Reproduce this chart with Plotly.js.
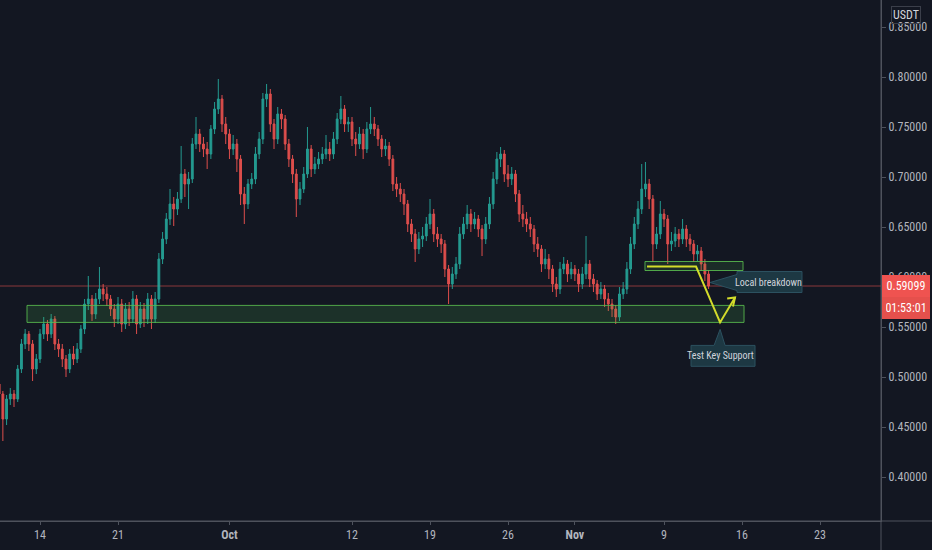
<!DOCTYPE html>
<html>
<head>
<meta charset="utf-8">
<script src="https://cdn.plot.ly/plotly-3.0.1.min.js"></script>
<style>
html,body{margin:0;padding:0;background:#131722;}
#chart{width:932px;height:550px;}
</style>
</head>
<body>
<div id="chart"></div>
<script>
// ---- data (8h candles, USDT) ----
const startTime = '2020-09-10T00:00:00Z';
const intervalHours = 8;

const openP = [
.488,.493,.483,.458,.478,.483,.478,.508,.533,.543,
.533,.508,.518,.543,.553,.543,.558,.533,.528,.518,
.508,.523,.518,.528,.548,.573,.578,.563,.578,.588,
.583,.578,.568,.558,.573,.553,.568,.558,.578,.553,
.568,.558,.578,.558,.578,.618,.638,.658,.673,.668,
.678,.703,.693,.698,.733,.743,.733,.728,.723,.748,
.768,.778,.753,.743,.728,.733,.718,.683,.673,.693,
.698,.723,.738,.778,.783,.753,.738,.763,.758,.733,
.718,.703,.678,.688,.703,.728,.708,.713,.718,.723,
.728,.723,.738,.758,.768,.753,.755,.738,.733,.743,
.728,.748,.753,.748,.738,.728,.731,.718,.693,.688,
.683,.673,.653,.643,.628,.638,.641,.653,.663,.643,
.638,.633,.608,.593,.603,.613,.643,.653,.663,.653,
.658,.648,.638,.653,.673,.698,.718,.723,.703,.698,
.703,.683,.663,.658,.653,.648,.633,.628,.613,.618,
.608,.593,.588,.608,.613,.603,.608,.603,.593,.603,
.613,.598,.593,.583,.588,.578,.573,.568,.560,.583,
.588,.608,.633,.653,.668,.688,.693,.678,.633,.643,
.663,.658,.633,.636,.643,.638,.648,.638,.633,.623,
.626,.613,.603
];
const highP = [
.498,.497,.486,.482,.489,.487,.512,.538,.548,.546,
.537,.523,.548,.560,.557,.563,.561,.538,.533,.522,
.528,.531,.534,.552,.578,.601,.582,.584,.610,.593,
.590,.582,.573,.580,.578,.574,.575,.586,.582,.575,
.574,.584,.582,.585,.624,.645,.664,.688,.680,.685,
.731,.708,.705,.739,.760,.748,.740,.735,.752,.775,
.798,.782,.760,.748,.742,.738,.722,.690,.698,.704,
.730,.745,.784,.793,.788,.758,.770,.768,.762,.738,
.722,.708,.695,.710,.750,.732,.720,.725,.730,.742,
.735,.745,.764,.781,.772,.760,.760,.745,.750,.748,
.755,.770,.760,.752,.742,.738,.735,.722,.700,.694,
.688,.677,.658,.648,.645,.650,.660,.678,.668,.650,
.643,.637,.612,.610,.620,.650,.660,.672,.668,.665,
.662,.652,.660,.680,.705,.725,.730,.727,.712,.710,
.707,.687,.672,.665,.660,.652,.640,.632,.628,.623,
.612,.600,.615,.620,.617,.615,.612,.608,.610,.641,
.617,.603,.597,.595,.592,.584,.578,.572,.590,.595,
.615,.640,.660,.676,.713,.715,.698,.682,.650,.676,
.668,.662,.645,.650,.648,.658,.652,.643,.637,.632,
.630,.618,.607
];
const lowP = [
.484,.478,.436,.452,.472,.470,.475,.504,.528,.526,
.496,.503,.514,.538,.536,.539,.527,.520,.510,.500,
.504,.512,.514,.524,.543,.567,.556,.558,.573,.576,
.571,.561,.550,.553,.545,.548,.551,.554,.543,.549,
.550,.553,.548,.554,.574,.613,.633,.652,.651,.662,
.674,.680,.668,.694,.728,.725,.720,.708,.718,.743,
.763,.745,.733,.718,.722,.705,.672,.653,.668,.688,
.693,.718,.733,.770,.745,.728,.733,.748,.727,.710,
.694,.660,.672,.684,.699,.700,.703,.708,.713,.718,
.716,.718,.733,.753,.745,.745,.731,.721,.728,.718,
.724,.743,.741,.731,.720,.721,.711,.686,.680,.675,
.662,.645,.635,.615,.623,.630,.636,.648,.635,.630,
.624,.600,.573,.588,.598,.608,.638,.648,.645,.648,
.640,.621,.633,.648,.668,.693,.710,.695,.690,.692,
.675,.655,.650,.645,.640,.625,.620,.605,.608,.598,
.585,.580,.583,.603,.595,.598,.596,.585,.588,.598,
.590,.585,.577,.578,.570,.566,.560,.553,.556,.578,
.583,.603,.628,.648,.663,.680,.668,.615,.628,.638,
.650,.613,.626,.630,.630,.633,.630,.626,.615,.616,
.606,.596,.588
];
const closeP = [
.493,.483,.458,.478,.483,.478,.508,.533,.543,.533,
.508,.518,.543,.553,.543,.558,.533,.528,.518,.508,
.523,.518,.528,.548,.573,.578,.563,.578,.588,.583,
.578,.568,.558,.573,.553,.568,.558,.578,.553,.568,
.558,.578,.558,.578,.618,.638,.658,.673,.668,.678,
.703,.693,.698,.733,.743,.733,.728,.723,.748,.768,
.778,.753,.743,.728,.733,.718,.683,.673,.693,.698,
.723,.738,.778,.783,.753,.738,.763,.758,.733,.718,
.703,.678,.688,.703,.728,.708,.713,.718,.723,.728,
.723,.738,.758,.768,.753,.755,.738,.733,.743,.728,
.748,.753,.748,.738,.728,.731,.718,.693,.688,.683,
.673,.653,.643,.628,.638,.641,.653,.663,.643,.638,
.633,.608,.593,.603,.613,.643,.653,.663,.653,.658,
.648,.638,.653,.673,.698,.718,.723,.703,.698,.703,
.683,.663,.658,.653,.648,.633,.628,.613,.618,.608,
.593,.588,.608,.613,.603,.608,.603,.593,.603,.613,
.598,.593,.583,.588,.578,.573,.568,.560,.583,.588,
.608,.633,.653,.668,.688,.693,.678,.633,.643,.663,
.658,.633,.636,.643,.638,.648,.638,.633,.623,.626,
.613,.603,.59099
];

const lastPrice = 0.59099;
const countdownText = '01:53:01';
const currency = 'USDT';

const xTickDates = ['2020-09-14','2020-09-21','2020-10-01','2020-10-12','2020-10-19','2020-10-26','2020-11-01','2020-11-09','2020-11-16','2020-11-23'];
const xTickLabels = ['14','21','<b>Oct</b>','12','19','26','<b>Nov</b>','9','16','23'];
const yTickVals = [0.40,0.45,0.50,0.55,0.60,0.65,0.70,0.75,0.80,0.85];

// support / resistance zones [x0, x1, yLow, yHigh]
const supportZone = ['2020-09-12 20:00','2020-11-16 04:20',0.5546,0.5716];
const breakZone = ['2020-11-07 07:00','2020-11-16 02:10',0.6065,0.6155];

// ---- build ----
const t0 = Date.parse(startTime);
const times = closeP.map((_, i) => new Date(t0 + i * intervalHours * 3600e3).toISOString().slice(0,16).replace('T',' '));

const UP = '#26a69a', DOWN = '#ef5350';
const trace = {
  type: 'candlestick',
  x: times, open: openP, high: highP, low: lowP, close: closeP,
  increasing: {line: {color: UP, width: 1}, fillcolor: UP},
  decreasing: {line: {color: DOWN, width: 1}, fillcolor: DOWN},
  whiskerwidth: 0,
  opacity: 0.92,
  hoverinfo: 'skip'
};

const fontFam = '"Liberation Sans Narrow", "Roboto Condensed", Roboto, "DejaVu Sans", sans-serif';
const axisCol = '#4e525d';
const txtCol = '#b2b5be';
const yel = '#d3dc2b';
const bubbleFill = '#1d3843';
const bubbleLine = '#2c5160';

const shapes = [
  {type:'line', xref:'paper', yref:'y', x0:0, x1:1, y0:lastPrice, y1:lastPrice,
   line:{color:'rgba(239,83,80,0.55)', width:1}, layer:'below'},
  {type:'rect', xref:'x', yref:'y', x0:supportZone[0], x1:supportZone[1], y0:supportZone[2], y1:supportZone[3],
   fillcolor:'rgba(76,175,80,0.17)', line:{color:'rgba(90,190,80,0.85)', width:1}},
  {type:'rect', xref:'x', yref:'y', x0:breakZone[0], x1:breakZone[1], y0:breakZone[2], y1:breakZone[3],
   fillcolor:'rgba(76,175,80,0.14)', line:{color:'rgba(90,190,80,0.85)', width:1}},
  {type:'path', xref:'x', yref:'y',
   path:'M 2020-11-07_11:20,0.6105 L 2020-11-11_21:00,0.6105 L 2020-11-14_00:45,0.5546 L 2020-11-15_08:55,0.5795',
   line:{color:yel, width:2}},
  {type:'path', xref:'x', yref:'y',
   path:'M 2020-11-14_16:00,0.5785 L 2020-11-15_08:55,0.5795 L 2020-11-15_04:30,0.5705',
   line:{color:yel, width:2}},
  {type:'path', xref:'x', yref:'y',
   path:'M 2020-11-13_03:10,0.5945 L 2020-11-15_13:10,0.6025 L 2020-11-15_13:10,0.6055 L 2020-11-21_09:10,0.6055 L 2020-11-21_09:10,0.5845 L 2020-11-15_13:10,0.5845 L 2020-11-15_13:10,0.5865 Z',
   fillcolor:bubbleFill, line:{color:bubbleLine, width:1}},
  {type:'path', xref:'x', yref:'y',
   path:'M 2020-11-14_00:45,0.5476 L 2020-11-14_11:30,0.5316 L 2020-11-17_04:00,0.5316 L 2020-11-17_04:00,0.5107 L 2020-11-11_10:10,0.5107 L 2020-11-11_10:10,0.5316 L 2020-11-13_11:50,0.5316 Z',
   fillcolor:bubbleFill, line:{color:bubbleLine, width:1}},
  // axis extensions
  {type:'line', xref:'paper', yref:'paper', x0:0, x1:1.06, y0:0, y1:0, line:{color:axisCol, width:1}},
  {type:'line', xref:'paper', yref:'paper', x0:1, x1:1, y0:-0.06, y1:1, line:{color:axisCol, width:1}}
];

const annotations = [
  {xref:'x', yref:'y', x:'2020-11-18 10:00', y:0.5950, text:'Local breakdown', showarrow:false,
   font:{family:fontFam, size:10, color:'#d1d4dc'}},
  {xref:'x', yref:'y', x:'2020-11-14 00:45', y:0.5212, text:'Test Key Support', showarrow:false,
   font:{family:fontFam, size:10, color:'#d1d4dc'}},
  {xref:'paper', yref:'y', x:1, xanchor:'left', xshift:1, y:lastPrice, yanchor:'middle',
   text:lastPrice.toFixed(5), showarrow:false, bgcolor:'#ef5350', bordercolor:'#ef5350', borderwidth:1,
   borderpad:3, width:40, font:{family:fontFam, size:12, color:'#ffffff'}},
  {xref:'paper', yref:'y', x:1, xanchor:'left', xshift:1, y:0.5686, yanchor:'middle',
   text:countdownText, showarrow:false, bgcolor:'#e5504c', bordercolor:'#e5504c', borderwidth:1,
   borderpad:3, width:40, font:{family:fontFam, size:12, color:'#ffffff'}},
  {xref:'paper', yref:'paper', x:1, xanchor:'left', xshift:10, y:1, yanchor:'top', yshift:-6,
   text:currency, showarrow:false, bordercolor:'#3b3f4a', borderwidth:1, borderpad:1,
   font:{family:fontFam, size:12, color:'#d1d4dc'}}
];

const layout = {
  width: 932, height: 550,
  paper_bgcolor: '#131722', plot_bgcolor: '#131722',
  margin: {l:0, r:51, t:0, b:29, pad:0},
  showlegend: false,
  font: {family: fontFam, color: txtCol, size: 12},
  xaxis: {
    type: 'date',
    range: ['2020-09-10 09:50', '2020-11-28 11:20'],
    tickmode: 'array', tickvals: xTickDates, ticktext: xTickLabels,
    showgrid: false, zeroline: false,
    showline: true, linecolor: axisCol, linewidth: 1,
    ticks: 'outside', ticklen: 3, tickcolor: axisCol,
    tickfont: {family: fontFam, size: 12, color: txtCol},
    rangeslider: {visible: false},
    fixedrange: true
  },
  yaxis: {
    side: 'right',
    range: [0.356, 0.877],
    tickmode: 'array', tickvals: yTickVals, ticktext: yTickVals.map(v => v.toFixed(5)),
    showgrid: false, zeroline: false,
    showline: true, linecolor: axisCol, linewidth: 1,
    ticks: 'outside', ticklen: 4, tickcolor: axisCol,
    tickfont: {family: fontFam, size: 12, color: txtCol},
    fixedrange: true
  },
  shapes: shapes,
  annotations: annotations
};

Plotly.newPlot('chart', [trace], layout, {staticPlot: true, displayModeBar: false});
</script>
</body>
</html>
